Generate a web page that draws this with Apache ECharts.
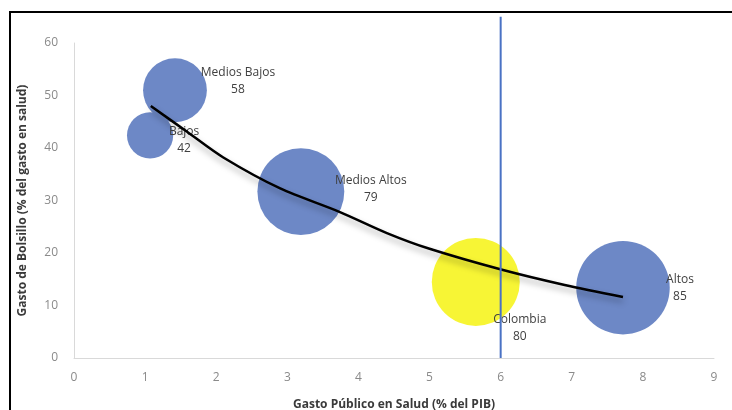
<!DOCTYPE html>
<html>
<head>
<meta charset="utf-8">
<script src="https://cdn.jsdelivr.net/npm/echarts@6/dist/echarts.min.js"></script>
<style>html,body{margin:0;padding:0;background:#fff;}#c{width:732px;height:410px;}</style>
</head>
<body>
<div id="c"></div>
<script>
// ---- data ----
const groups = ['Medios Bajos', 'Bajos', 'Medios Altos', 'Colombia', 'Altos'];
const gastoPublico = [1.42, 1.07, 3.19, 5.65, 7.72];     // % del PIB (x)
const gastoBolsillo = [51.0, 42.4, 31.7, 14.5, 13.4];   // % del gasto en salud (y)
const bubbleSize = [58, 42, 79, 80, 85];
const trendX = [1.08, 1.60, 2.10, 2.90, 3.74, 4.40, 5.00, 6.02, 6.90, 7.72];
const trendY = [48.0, 43.0, 38.2, 32.3, 27.8, 23.8, 20.8, 16.8, 13.9, 11.6];
const refLineX = [6, 6];
const refLineY = [0, 65];
const xTicks = [0, 1, 2, 3, 4, 5, 6, 7, 8, 9];
const yTicks = [0, 10, 20, 30, 40, 50, 60];

// ---- styles ----
const labelOffsets = {
  'Medios Bajos': [63, -9],
  'Bajos': [34, 5],
  'Medios Altos': [70, -2],
  'Colombia': [44, 46],
  'Altos': [57, 0]
};
const blue = '#6d88c6';
const yellow = '#f7f535';
const font = 'Open Sans';

const bubbles = groups.map((g, i) => ({
  name: g,
  value: [gastoPublico[i], gastoBolsillo[i], bubbleSize[i]],
  itemStyle: { color: g === 'Colombia' ? yellow : blue },
  label: { offset: labelOffsets[g] }
}));

const chart = echarts.init(document.getElementById('c'), null, { renderer: 'canvas' });
chart.setOption({
  animation: false,
  backgroundColor: '#fff',
  grid: { left: 74, right: 18, top: 43, bottom: 52, containLabel: false, outerBoundsMode: 'none' },
  xAxis: {
    type: 'value', min: xTicks[0], max: xTicks[xTicks.length - 1], interval: 1,
    name: 'Gasto Público en Salud (% del PIB)', nameLocation: 'middle', nameGap: 41,
    nameTextStyle: { fontFamily: font, fontWeight: 'bold', fontSize: 12, color: '#3a3a3a' },
    axisLine: { show: true, lineStyle: { color: '#d9d9d9', width: 1 } },
    axisTick: { show: false },
    splitLine: { show: false },
    axisLabel: { fontFamily: font, fontSize: 12, color: '#8a8a8a', margin: 14 }
  },
  yAxis: {
    type: 'value', min: yTicks[0], max: yTicks[yTicks.length - 1], interval: 10,
    name: 'Gasto de Bolsillo (% del gasto en salud)', nameLocation: 'middle', nameGap: 45,
    nameTextStyle: { fontFamily: font, fontWeight: 'bold', fontSize: 12, color: '#3a3a3a' },
    axisLine: { show: true, lineStyle: { color: '#d9d9d9', width: 1 } },
    axisTick: { show: false },
    splitLine: { show: false },
    axisLabel: { fontFamily: font, fontSize: 12, color: '#8a8a8a', margin: 16 }
  },
  graphic: [{
    type: 'rect', z: 100, silent: true,
    shape: { x: 10, y: 12, width: 740, height: 420 },
    style: { fill: 'none', stroke: '#000', lineWidth: 2 }
  }],
  series: [
    {
      type: 'scatter', z: 2,
      data: bubbles,
      symbolSize: v => v[2] * 1.1,
      itemStyle: { opacity: 1 },
      label: {
        show: true, position: 'inside',
        formatter: p => p.name + '\n' + p.value[2],
        fontFamily: font, fontSize: 12, color: '#404040', lineHeight: 17, align: 'center'
      }
    },
    {
      type: 'line', z: 3,
      data: trendX.map((x, i) => [x, trendY[i]]),
      smooth: 0.3, showSymbol: false, symbol: 'none',
      lineStyle: { color: '#000', width: 2.5, shadowColor: 'rgba(0,0,0,0.35)', shadowBlur: 6, shadowOffsetY: 4 }
    },
    {
      type: 'line', z: 4, clip: false,
      data: refLineX.map((x, i) => [x, refLineY[i]]),
      showSymbol: false, symbol: 'none',
      lineStyle: { color: '#4a72c4', width: 2 }
    }
  ]
});
</script>
</body>
</html>
